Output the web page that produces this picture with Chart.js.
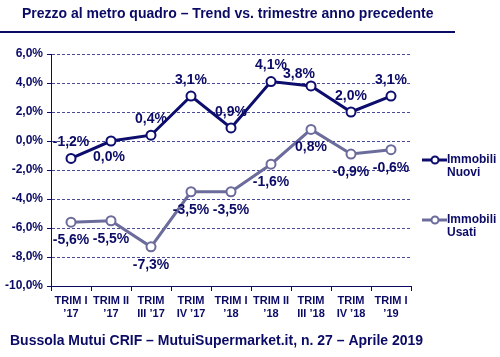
<!DOCTYPE html>
<html>
<head>
<meta charset="utf-8">
<script src="https://cdn.jsdelivr.net/npm/chart.js@4"></script>
<style>
html,body{margin:0;padding:0;background:#fff;}
#wrap{width:500px;height:357px;position:relative;}
</style>
</head>
<body>
<div id="wrap"><canvas id="c" width="500" height="357"></canvas></div>
<script>
const categories = [["TRIM I","’17"],["TRIM II","’17"],["TRIM","III ’17"],["TRIM","IV ’17"],["TRIM I","’18"],["TRIM II","’18"],["TRIM","III ’18"],["TRIM","IV ’18"],["TRIM I","’19"]];
const nuovi = [-1.2, 0.0, 0.4, 3.1, 0.9, 4.1, 3.8, 2.0, 3.1];
const usati = [-5.6, -5.5, -7.3, -3.5, -3.5, -1.6, 0.8, -0.9, -0.6];
const seriesNames = [["Immobili","Nuovi"],["Immobili","Usati"]];
const yTicks = [6, 4, 2, 0, -2, -4, -6, -8, -10];
const titleText = "Prezzo al metro quadro – Trend vs. trimestre anno precedente";
const footerText = "Bussola Mutui CRIF – MutuiSupermarket.it, n. 27 – Aprile 2019";

const NAVY = '#0b0b66';
const C1 = '#0d0d6e';
const C2 = '#6c6c9c';
const FONT = '"Liberation Sans", Arial, sans-serif';
const fmt = v => v.toFixed(1).replace('.', ',') + '%';

// label placement: +1 above, -1 below (style, not data)
const placeNuovi = [1,-1,1,1,1,1,1,1,1];
const dxNuovi = [0,-2,0,0,0,0,-12,0,0];
const dyNuovi = [0,0,0,0,0,0,4,0,0];

const overlay = {
  id: 'overlay',
  afterDatasetsDraw(chart) {
    const ctx = chart.ctx;
    ctx.save();
    ctx.font = 'bold 14px ' + FONT;
    ctx.fillStyle = NAVY;
    ctx.textAlign = 'center';
    ctx.textBaseline = 'middle';
    chart.getDatasetMeta(0).data.forEach((p, i) => {
      ctx.fillText(fmt(nuovi[i]), p.x + dxNuovi[i], p.y - placeNuovi[i] * 16 + dyNuovi[i]);
    });
    chart.getDatasetMeta(1).data.forEach((p, i) => {
      ctx.fillText(fmt(usati[i]), p.x, p.y + 18);
    });
    ctx.restore();
  },
  afterDraw(chart) {
    const ctx = chart.ctx;
    ctx.save();
    ctx.fillStyle = NAVY;
    ctx.textBaseline = 'middle';
    ctx.textAlign = 'left';
    ctx.font = 'bold 14px ' + FONT;
    ctx.fillText(titleText, 22, 14);
    ctx.fillText(footerText, 10, 341);
    ctx.strokeStyle = NAVY;
    ctx.lineWidth = 2;
    ctx.beginPath(); ctx.moveTo(0, 32); ctx.lineTo(455, 32); ctx.stroke();
    // legend
    const items = [{c: C1, y: 160, names: seriesNames[0]}, {c: C2, y: 220, names: seriesNames[1]}];
    ctx.font = 'bold 12px ' + FONT;
    items.forEach(it => {
      ctx.strokeStyle = it.c; ctx.lineWidth = 3;
      ctx.beginPath(); ctx.moveTo(422, it.y); ctx.lineTo(447, it.y); ctx.stroke();
      ctx.fillStyle = '#fff'; ctx.lineWidth = 2;
      ctx.beginPath(); ctx.arc(435, it.y, 3.5, 0, Math.PI * 2); ctx.fill(); ctx.stroke();
      ctx.fillStyle = NAVY;
      ctx.fillText(it.names[0], 447, it.y);
      ctx.fillText(it.names[1], 447, it.y + 13);
    });
    ctx.restore();
  }
};

new Chart(document.getElementById('c'), {
  type: 'line',
  data: {
    labels: categories,
    datasets: [
      {label: seriesNames[0].join(' '), data: nuovi, borderColor: C1, backgroundColor: '#fff', borderWidth: 3,
       pointRadius: 4.5, pointBorderWidth: 2, pointBackgroundColor: '#fff', pointBorderColor: C1, tension: 0},
      {label: seriesNames[1].join(' '), data: usati, borderColor: C2, backgroundColor: '#fff', borderWidth: 3,
       pointRadius: 4.5, pointBorderWidth: 2, pointBackgroundColor: '#fff', pointBorderColor: C2, tension: 0}
    ]
  },
  options: {
    responsive: false,
    animation: false,
    devicePixelRatio: 1,
    layout: {padding: {top: 54, right: 89, bottom: 0, left: 0}},
    plugins: {legend: {display: false}, title: {display: false}, tooltip: {enabled: false}},
    scales: {
      x: {
        offset: true,
        grid: {offset: true, drawOnChartArea: false, tickLength: 5, color: NAVY, tickColor: NAVY},
        border: {display: true, color: NAVY, width: 1},
        ticks: {color: NAVY, font: {family: FONT, weight: 'bold', size: 11, lineHeight: 1.2}, padding: 3, maxRotation: 0, autoSkip: false},
        afterFit(s) { s.height = 71; }
      },
      y: {
        min: -10, max: 6,
        afterBuildTicks(s) { s.ticks = yTicks.map(v => ({value: v})); },
        grid: {color: '#4a4a9a', lineWidth: 1, tickLength: 4, tickColor: NAVY, tickBorderDash: []},
        border: {display: true, color: NAVY, width: 1, dash: [3, 2]},
        ticks: {color: NAVY, font: {family: FONT, weight: 'bold', size: 12}, padding: 4, callback: v => fmt(v)},
        afterFit(s) { s.width = 51; }
      }
    }
  },
  plugins: [overlay]
});
</script>
</body>
</html>
